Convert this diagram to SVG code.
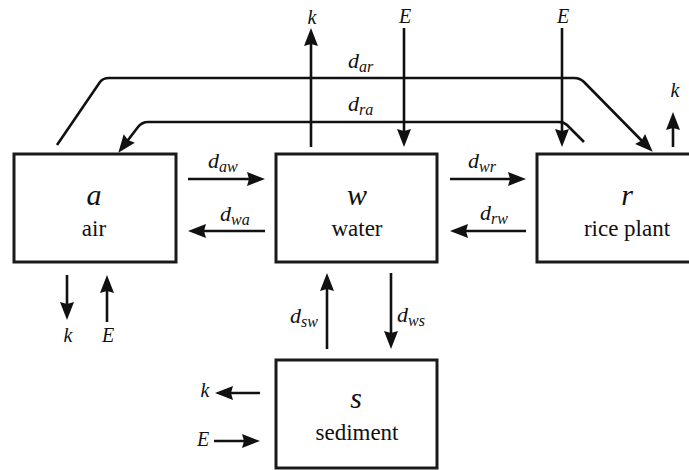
<svg xmlns="http://www.w3.org/2000/svg" width="689" height="470" viewBox="0 0 689 470">
<style>
text{font-family:"Liberation Serif","Times New Roman","DejaVu Serif",serif;fill:#111}
.box{fill:#fff;stroke:#1a1a1a;stroke-width:3}
.ln{fill:none;stroke:#111;stroke-width:2.6}
.var{font-style:italic;font-size:30px;text-anchor:middle}
.name{font-size:23px;text-anchor:middle}
.lab{font-style:italic;font-size:22px}
.sub{font-size:16px}
.ke{font-style:italic;font-size:20px;text-anchor:middle}
</style>
<defs>
<marker id="ah" markerUnits="userSpaceOnUse" markerWidth="20" markerHeight="16" refX="7" refY="7" orient="auto" overflow="visible">
<path d="M0,0 L18,7 L0,14 L2,7 z" fill="#111"/>
</marker>
</defs>
<g id="air">
<rect class="box" x="14" y="154" width="162" height="108"/>
<text class="var" x="94" y="205">a</text>
<text class="name" x="94" y="236">air</text>
</g>
<g id="water">
<rect class="box" x="276" y="154" width="161" height="108"/>
<text class="var" x="357" y="205">w</text>
<text class="name" x="357" y="236">water</text>
</g>
<g id="rice">
<rect class="box" x="537" y="154" width="180" height="108"/>
<text class="var" x="627" y="205">r</text>
<text class="name" x="627" y="236">rice plant</text>
</g>
<g id="sediment">
<rect class="box" x="276" y="360" width="161" height="108"/>
<text class="var" x="356" y="408">s</text>
<text class="name" x="357" y="440">sediment</text>
</g>
<g id="connectors">
<line class="ln" x1="188" y1="179" x2="254" y2="179" marker-end="url(#ah)"/>
<line class="ln" x1="265" y1="231" x2="199" y2="231" marker-end="url(#ah)"/>
<line class="ln" x1="450" y1="179" x2="515" y2="179" marker-end="url(#ah)"/>
<line class="ln" x1="526" y1="231" x2="461" y2="231" marker-end="url(#ah)"/>
<line class="ln" x1="327" y1="349" x2="327" y2="284" marker-end="url(#ah)"/>
<line class="ln" x1="391" y1="273" x2="391" y2="338" marker-end="url(#ah)"/>
<line class="ln" x1="260" y1="393" x2="226" y2="393" marker-end="url(#ah)"/>
<line class="ln" x1="214" y1="441" x2="249" y2="441" marker-end="url(#ah)"/>
<line class="ln" x1="67" y1="275" x2="67" y2="309" marker-end="url(#ah)"/>
<line class="ln" x1="107" y1="322" x2="107" y2="286" marker-end="url(#ah)"/>
<line class="ln" x1="311" y1="147" x2="311" y2="39" marker-end="url(#ah)"/>
<line class="ln" x1="404" y1="28" x2="404" y2="136" marker-end="url(#ah)"/>
<line class="ln" x1="562" y1="28" x2="562" y2="136" marker-end="url(#ah)"/>
<line class="ln" x1="673" y1="147" x2="673" y2="123" marker-end="url(#ah)"/>
<path class="ln" d="M57,145 L100,82 Q103,78 109,78 L574,78 Q580,78 584,82 L645,144" marker-end="url(#ah)"/>
<path class="ln" d="M584,142 L567,125 Q564,122 559,122 L148,122 Q142,122 138,127 L125,144" marker-end="url(#ah)"/>
<text class="lab" x="348" y="68">d<tspan class="sub" dy="4">ar</tspan></text>
<text class="lab" x="348" y="111">d<tspan class="sub" dy="4">ra</tspan></text>
<text class="lab" x="208" y="168">d<tspan class="sub" dy="4">aw</tspan></text>
<text class="lab" x="220" y="221">d<tspan class="sub" dy="4">wa</tspan></text>
<text class="lab" x="468" y="168">d<tspan class="sub" dy="4">wr</tspan></text>
<text class="lab" x="480" y="220">d<tspan class="sub" dy="4">rw</tspan></text>
<text class="lab" x="290" y="323">d<tspan class="sub" dy="4">sw</tspan></text>
<text class="lab" x="397" y="322">d<tspan class="sub" dy="4">ws</tspan></text>
<text class="ke" x="312" y="24">k</text>
<text class="ke" x="405" y="23">E</text>
<text class="ke" x="563" y="23">E</text>
<text class="ke" x="675" y="97">k</text>
<text class="ke" x="68" y="342">k</text>
<text class="ke" x="108" y="342">E</text>
<text class="ke" x="205" y="397">k</text>
<text class="ke" x="203" y="446">E</text>
</g>
</svg>
